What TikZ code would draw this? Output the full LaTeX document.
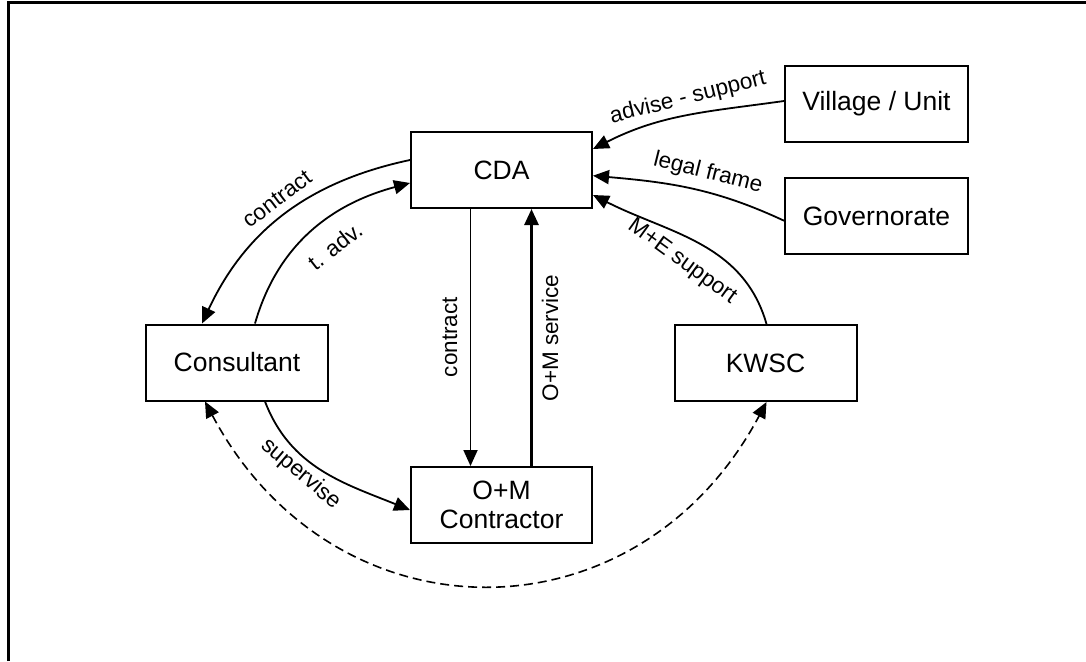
\documentclass[tikz,border=0pt]{standalone}
\usepackage{fontspec}
\setmainfont{Liberation Sans}
\usetikzlibrary{arrows.meta}
\begin{document}
\begin{tikzpicture}[x=1pt,y=-1pt,
  box/.style={draw, line width=2pt, minimum width=181pt, minimum height=76pt, inner sep=0pt, font=\fontsize{26.5}{29.5}\selectfont, align=center},
  conn/.style={line width=1.8pt, -{Triangle[length=16pt,width=14pt]}},
  dashconn/.style={line width=1.6pt, dash pattern=on 9pt off 5pt, {Triangle[length=16pt,width=14pt]}-{Triangle[length=16pt,width=14pt]}},
  lbl/.style={font=\fontsize{22.5}{26}\selectfont, inner sep=0pt}]

\useasboundingbox (0,0) rectangle (1086,661);
\draw[line width=3pt] (8,661) -- (8,3) -- (1086,3);

% boxes
\node[box] (cda) at (501.5,170) {CDA};
\node[box, minimum width=183pt] (vil) at (876.5,104) {Village / Unit};
\node[box, minimum width=183pt] (gov) at (876.5,216) {Governorate};
\node[box, minimum width=182pt] (con) at (237,362.5) {Consultant};
\node[box, minimum width=182pt] (kwsc) at (765.5,363) {KWSC};
\node[box] (om) at (501.5,505) {O+M\\Contractor};

% connectors
\draw[conn] ([yshift=10pt]cda.west) to[out=192,in=65] ([xshift=-35pt]con.north);
\draw[conn] ([xshift=18pt]con.north) to[out=74,in=195] ([yshift=-13pt]cda.west);
\draw[conn] ([xshift=-31pt]cda.south) -- ([xshift=-31pt]om.north);
\draw[conn, line width=2.8pt] ([xshift=30pt]om.north) -- ([xshift=30pt]cda.south);
\draw[conn] ([yshift=3pt]vil.west) to[out=188,in=27] ([yshift=21pt]cda.east);
\draw[conn] ([yshift=-4.7pt]gov.west) to[out=155,in=355] ([yshift=-5.7pt]cda.east);
\draw[conn] ([xshift=1pt]kwsc.north) to[out=106,in=333] ([yshift=-25pt]cda.east);
\draw[conn] ([xshift=28pt]con.south) to[out=-69,in=158] ([yshift=-5pt]om.west);
\draw[dashconn] ([xshift=-32pt]con.south) .. controls +(-62:275pt) and +(242:275pt) .. ([xshift=1pt]kwsc.south);

% labels
\node[lbl, rotate=37] (lcontract) at (277,199) {contract};
\node[lbl, rotate=38] (ltadv) at (335,246) {t. adv.};
\node[lbl, rotate=90] (lcontractv) at (450,337) {contract};
\node[lbl, rotate=90] (lomservice) at (550,338) {O+M service};
\node[lbl, rotate=14] (ladvise) at (688,98) {advise - support};
\node[lbl, rotate=-14] (llegal) at (708,173) {legal frame};
\node[lbl, rotate=-36] (lme) at (682,262) {M+E support};
\node[lbl, rotate=-40] (lsup) at (301,474) {supervise};
\end{tikzpicture}
\end{document}
